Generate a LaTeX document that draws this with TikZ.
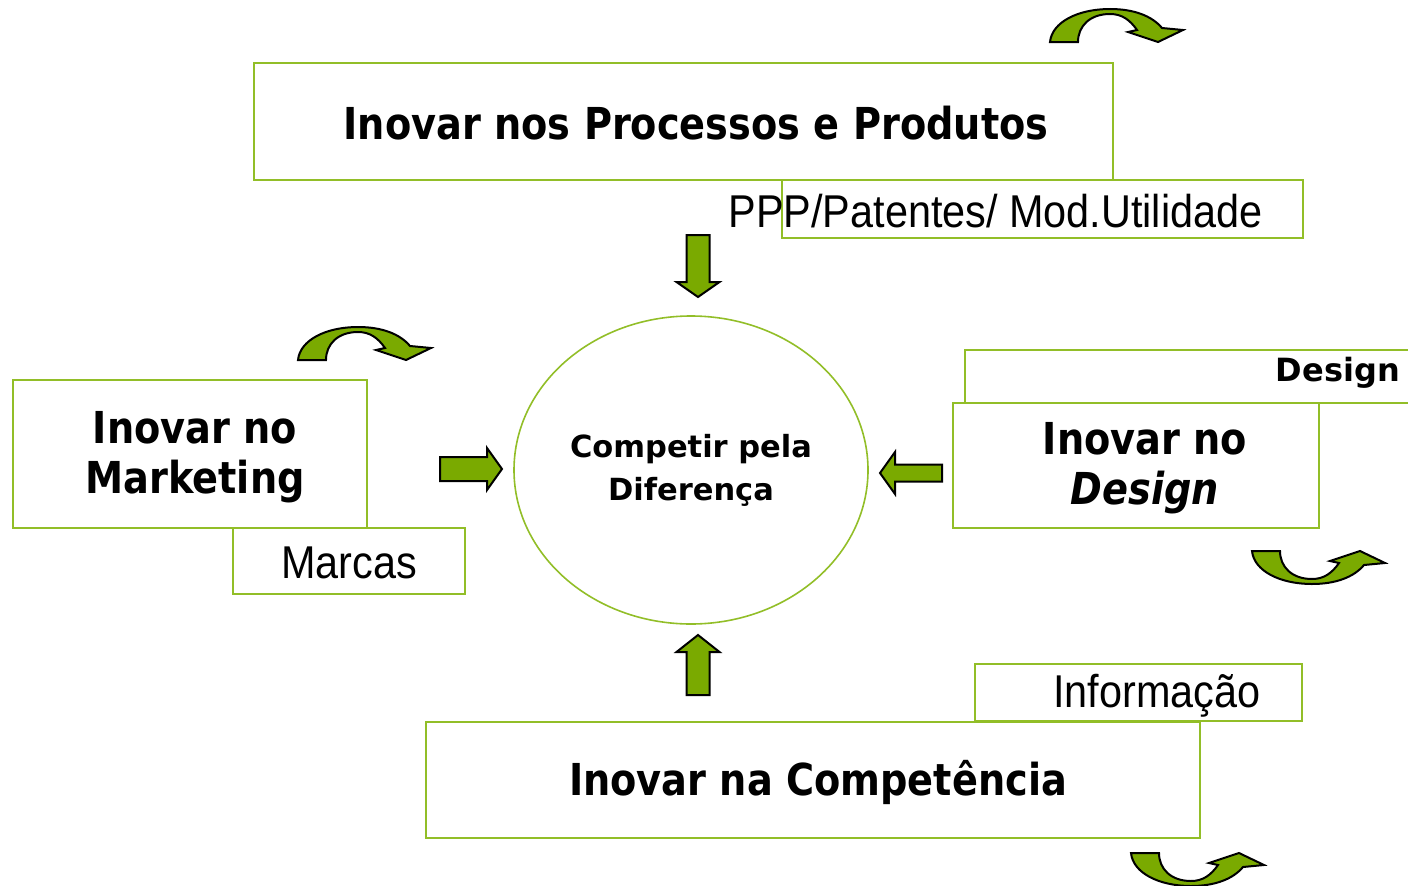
\documentclass[tikz,border=0pt]{standalone}
\usepackage{fontspec}
\setmainfont{DejaVu Sans}[FakeStretch=0.87]
\newfontfamily\widefont{DejaVu Sans}
\newfontfamily\thinfont[FakeStretch=0.9]{Liberation Sans}
\usetikzlibrary{shapes.geometric,positioning}
\definecolor{leaf}{RGB}{146,190,40}
\definecolor{moss}{RGB}{122,170,0}
\tikzset{box/.style={rectangle,draw=leaf,line width=2pt,inner sep=0pt},
hub/.style={ellipse,draw=leaf,line width=1.6pt,inner sep=0pt,align=center,
font=\widefont\bfseries\fontsize{30.5}{43}\selectfont},
head/.style={inner sep=0pt,align=center,font=\bfseries\fontsize{44}{50}\selectfont},
tag/.style={inner sep=0pt,font=\thinfont\fontsize{46}{50}\selectfont},
arrowfill/.style={fill=moss,draw=black,line width=2pt,line join=miter},
pics/push/.style n args={4}{code={
  \draw[arrowfill] (0,-#3) -- ({#1-#4},-#3) -- ({#1-#4},-#2) -- (#1,0)
    -- ({#1-#4},#2) -- ({#1-#4},#3) -- (0,#3) -- cycle;}},
pics/turn/.style={code={
  \draw[arrowfill] (0,34) .. controls (2,14) and (28,1) .. (60,1)
    .. controls (84,1) and (102,8) .. (112,20) -- (133,22) -- (108,34)
    -- (78,24) -- (87,22) .. controls (80,12) and (72,6) .. (60,6)
    .. controls (40,6) and (28,18) .. (28,34) -- cycle;}}}

\begin{document}
\begin{tikzpicture}[x=1pt,y=-1pt]
\useasboundingbox (0,0) rectangle (1408,886);

% centre
\node (hub) [hub,minimum width=354pt,minimum height=308pt] at (691,470) {Competir pela\\Diferença};

% boxes
\node (proc) [box,minimum width=859pt,minimum height=117pt] at (683.5,121.5) {};
\node (ppp) [box,minimum width=521pt,minimum height=58pt] at (1042.5,209) {};
\node (mkt) [box,minimum width=354pt,minimum height=148pt] at (190,454) {};
\node (marcas) [box,minimum width=232pt,minimum height=66pt] at (349,561) {};
\node (dtag) [box,minimum width=447pt,minimum height=53pt] at (1188.5,376.5) {};
\node (dsgn) [box,minimum width=366pt,minimum height=125pt] at (1136,465.5) {};
\node (info) [box,minimum width=327pt,minimum height=57pt] at (1138.5,692.5) {};
\node (comp) [box,minimum width=774pt,minimum height=116pt] at (813,780) {};

% texts
\node (proctxt) [head] at (696,123) {Inovar nos Processos e Produtos};
\node (ppptxt) [tag] at (995.5,211) {PPP/Patentes/ Mod.Utilidade};
\node (mkttxt) [head] at (195,457) {Inovar no\\Marketing};
\node (marcastxt) [tag] at (349,563) {Marcas};
\node (dtagtxt) [head,font=\widefont\bfseries\fontsize{32}{36}\selectfont,anchor=east] at (1400,373) {Design};
\node (dsgntxt) [head] at (1145,468) {Inovar no\\\textit{Design}};
\node (infotxt) [tag] at (1157,696) {Informação};
\node (comptxt) [head] at (818,782) {Inovar na Competência};

% block arrows
\pic [rotate=-90] at (698,235) {push={62}{21.5}{11.5}{15}};
\pic [rotate=90] at (698,695) {push={60}{21.5}{11.5}{17}};
\pic at (440,469) {push={62}{21}{12}{15}};
\pic [rotate=180] at (942,473) {push={62}{21}{8.5}{15}};

% turning arrows
\pic at (1050,8) {turn};
\pic at (298,326) {turn};
\pic [yscale=-1] at (1252,585) {turn};
\pic [yscale=-1] at (1131,887) {turn};
\end{tikzpicture}
\end{document}
